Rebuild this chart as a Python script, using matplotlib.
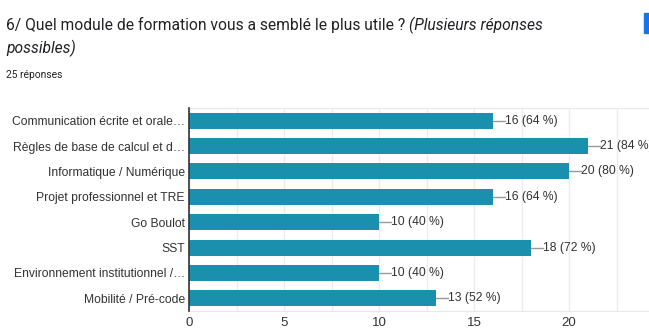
import matplotlib.pyplot as plt
from matplotlib.ticker import MultipleLocator

modules = [
    'Communication écrite et orale…',
    'Règles de base de calcul et d…',
    'Informatique / Numérique',
    'Projet professionnel et TRE',
    'Go Boulot',
    'SST',
    'Environnement institutionnel /…',
    'Mobilité / Pré-code',
]
counts = [16, 21, 20, 16, 10, 18, 10, 13]
percents = [64, 84, 80, 64, 40, 72, 40, 52]
total = 25

bar_color = '#1a8fae'
text_color = '#333333'

fig = plt.figure(figsize=(6.49, 3.29), dpi=100)
ax = fig.add_axes([189 / 649, 1 - 311 / 329, 475 / 649, 203 / 329])

y = list(range(len(modules)))
ax.barh(y, counts, height=0.63, color=bar_color, zorder=3)

for yi, c, p in zip(y, counts, percents):
    ax.plot([c, c + 0.65], [yi, yi], color='#999999', lw=1, zorder=3, clip_on=False)
    ax.text(c + 0.65, yi, f'{c} ({p} %)', va='center', ha='left',
            fontsize=8.7, color=text_color, family='Liberation Sans', clip_on=False)

ax.set_xlim(0, 25)
ax.set_ylim(len(modules) - 0.5, -0.5)
ax.set_yticks(y)
ax.set_yticklabels(modules, fontsize=8.7, color=text_color, family='Liberation Sans')
ax.xaxis.set_minor_locator(MultipleLocator(2.5))
ax.set_xticks([0, 5, 10, 15, 20])
ax.tick_params(axis='x', labelsize=9.5, colors=text_color, length=0, pad=4.3, which='both')
ax.tick_params(axis='y', length=0, pad=3)
for lab in ax.get_xticklabels():
    lab.set_family('Liberation Sans')
ax.grid(axis='x', which='both', color='#ececec', lw=1, zorder=0)

for side in ['top', 'bottom']:
    ax.spines[side].set_color('#e8e8e8')
ax.spines['right'].set_visible(False)
ax.spines['left'].set_color('#333333')
ax.spines['left'].set_linewidth(1.2)
ax.spines['left'].set_zorder(4)

title_size = 11.25
line1 = '6/ Quel module de formation vous a semblé le plus utile ? '
t = fig.text(6 / 649, 1 - 25 / 329, line1,
             fontsize=title_size, family='Roboto', color='#202124', va='center')
fig.canvas.draw()
bb = t.get_window_extent()
fig.text(bb.x1 / (6.49 * 100), 1 - 25 / 329, '(Plusieurs réponses',
         fontsize=title_size, family='Roboto', style='italic', color='#202124', va='center')
fig.text(6 / 649, 1 - 48 / 329, 'possibles)',
         fontsize=title_size, family='Roboto', style='italic', color='#202124', va='center')
fig.text(6 / 649, 1 - 75 / 329, f'{total} réponses',
         fontsize=7.4, family='Roboto', color='#202124', va='center')

# small blue marker at the top right
fig.add_artist(plt.Rectangle((644 / 649, 1 - 33 / 329), 5 / 649, 20 / 329,
                             color='#1a73e8', transform=fig.transFigure))

fig.savefig('out.png', dpi=100)
